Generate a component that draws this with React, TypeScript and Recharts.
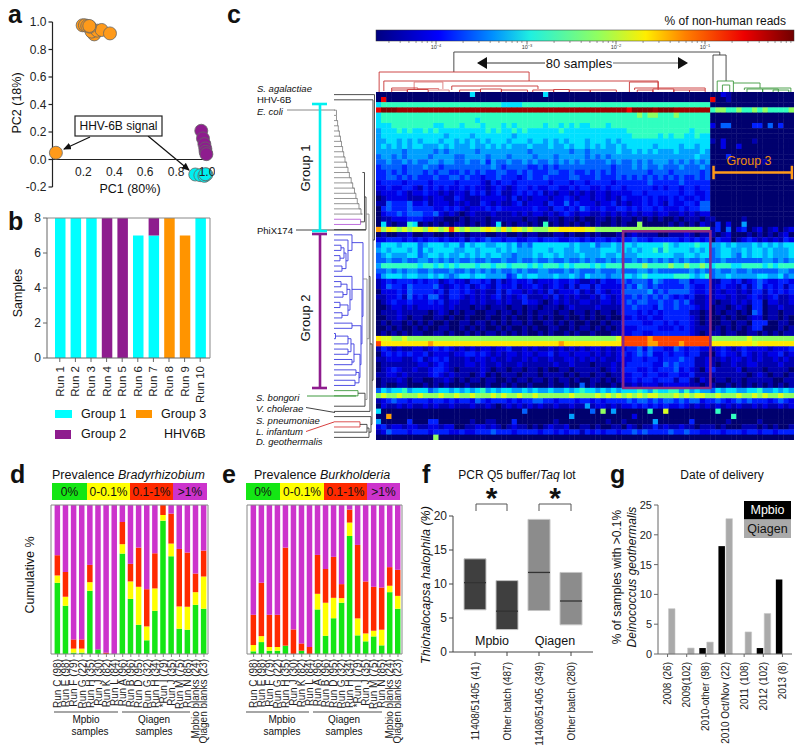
import React from "react";
import {
  BarChart, Bar, ComposedChart, Line, Cell, ScatterChart, Scatter, XAxis, YAxis, ReferenceLine, ReferenceArea,
} from "recharts";

const FONT = "'Liberation Sans', Arial, sans-serif";

/* ---- panel a ---- */
const pcaOrange = [[0.195,0.976],[0.21,0.976],[0.225,0.971],[0.27,0.91],[0.253,0.93],[0.29,0.937],[0.318,0.942],[0.372,0.917],[0.242,0.966],[0.238,0.971],[0.022,0.049]];
const pcaPurple = [[0.963,0.209],[0.974,0.153],[0.983,0.112],[0.989,0.08],[0.991,0.056],[0.996,0.039]];
const pcaCyan = [[0.924,-0.109],[0.957,-0.114],[0.983,-0.119],[0.996,-0.109],[0.989,-0.107]];
const pcaXTicks = [0.2,0.4,0.6,0.8,1.0];
const pcaYTicks = [-0.2,0,0.2,0.4,0.6,0.8,1.0];

/* ---- panel b ---- */
const runNames = ["Run 1","Run 2","Run 3","Run 4","Run 5","Run 6","Run 7","Run 8","Run 9","Run 10"];
const group1Counts = [8,8,8,0,0,7,7,0,0,8];
const group2Counts = [0,0,0,8,8,0,1,0,0,0];
const group3Counts = [0,0,0,0,0,0,0,8,7,0];

/* ---- panels d, e ---- */
const prevLabels = ["Run C (98)","Run E (98)","Run F (79)","Run G (22)","Run H (35)","Run J (30)","Run K (82)","Run L (84)","Run A (96)","Run B (96)","Run D (95)","Run G (32)","Run H (34)","*Run I (79)","Run J (35)","Run M (75)","Run N (85)","Mpbio blanks (24)","Qiagen blanks (23)"];
const bradyGreen = [47.8,32.4,0.9,0.9,42.4,3.1,0,0,67.4,37,19.6,9.2,29,89.5,65.6,17,16.3,33,30.4];
const bradyYellow = [52.7,38.4,3.6,3.6,48.2,3.1,0,0,73.7,48.7,45.1,18.5,44,93.3,74.1,31.9,31.7,41.5,52];
const bradyRed = [66.3,55.1,9.8,9.8,59.8,3.1,0.9,0,88.6,60.5,71.4,43.5,67.6,100,94.2,70.5,68.1,54,69.4];
const burkGreen = [1.8,8,2.2,2.2,5.6,0,2.2,0,29.9,12.3,24,34.4,79.2,12.5,8.5,11.8,5.8,41.5,30.4];
const burkYellow = [6,12,4.7,4.7,5.6,0,2.2,0,40.4,34.4,37.7,37.5,88.2,23.9,13.8,15.6,16.3,45.8,39];
const burkRed = [26.3,47.8,26.3,26.3,71.4,16.5,7.1,4.7,66.5,57.1,65.2,46.9,96.9,73.2,48.7,45.1,44.6,58.3,56.5];

/* ---- panel f ---- */
const lotLabels = ["11408/51405 (41)","Other batch (487)","11408/51405 (349)","Other batch (280)"];
const lotLow = [6.2,3.3,6.1,4];
const lotMedian = [10.2,6,11.7,7.5];
const lotHigh = [13.7,10.5,19.5,11.7];
const lotFill = ["#3f3f3f","#3f3f3f","#8c8c8c","#8c8c8c"];

/* ---- panel g ---- */
const dateLabels = ["2008 (26)","2009(102)","2010-other (98)","2010 Oct/Nov (22)","2011 (108)","2012 (102)","2013 (8)"];
const dateMpbio = [0,0,1,18.1,0,1,12.5];
const dateQiagen = [7.6,1,2,22.7,3.7,6.8,0];

/* ---- panel c heat map: one hex colour level per cell, read row by row ---- */
const heatLevels = ["#00006e","#0000b0","#0000e6","#0020ff","#0060ff","#00a0ff","#00e0ff","#30ffc0","#90ff60","#d8ff20","#ffe800","#ffa000","#ff4400","#f00000","#a00000","#800000"];
const heatRows = [
"00000000 00000000 00600000 00000000 60000000 00000000 00000000 00000000 00210000 00000000",
"0d000000 00000000 00000000 00000000 00000000 00000000 00000000 00000000 d0010000 00000000",
"67777777 77777777 77777777 66667777 77777777 77777777 77777777 77777777 00000000 00000000",
"dfffeeee eeeeeeee eeeeeeee eeeeeeee eeeeeeee eeeeeeee dffffeff feeeeeee 78877877 87877778",
"67777777 77777777 77777777 77777777 77777777 77777777 77878877 78777777 00000000 00000000",
"67777777 77777777 77767777 77777777 77777777 77777777 77777777 77777777 00000000 00000000",
"66677777 77766777 67776777 67677777 67767676 67776777 77777777 77777777 20440000 33040300",
"56667676 67676666 66666767 66767666 66676666 66666666 77777777 77776777 00000000 00000000",
"56666666 66666566 66566666 66566666 66666666 66666666 67777767 67766766 00000000 00000000",
"55665656 56665665 65656566 65666566 56565666 56665656 66666666 66666666 10200000 10000000",
"56565656 65556565 55655656 56555655 56556566 56565565 66666566 66566566 00200200 00000000",
"55555455 55545455 55545555 55555455 55555455 45555565 56565655 56555565 00000000 00000000",
"45545455 55455554 45555455 54555545 55455555 45454555 55555555 55555655 00030000 00000000",
"44544545 44554554 45445354 45445454 45454545 44445454 45454555 45454545 00000000 00100000",
"34444344 45443444 44444454 34444334 34344444 44444344 45454454 44544454 00000000 00000000",
"33434344 43434433 43434334 43343433 34433433 43434344 44443444 34444434 00000000 00000000",
"33443434 33343344 34332334 33323433 43333443 33433343 43434343 43433434 00000000 00000000",
"23333233 33233332 33332132 33233333 32333233 23333233 33334333 33433333 00000000 00000000",
"22322332 13232322 32322123 21233232 23322323 32232332 33333232 33233233 00000000 00000000",
"12223212 23221212 21323123 11232323 12122121 21221222 23323333 33233223 00000000 00000000",
"01222211 12122113 21112222 21312122 21223212 21221213 22232322 32322323 00000000 00000000",
"11433342 23122212 12113212 11231222 13224232 22122312 12232321 32233244 00000000 00000000",
"03433343 33322323 21222323 22222232 21332324 32232233 23233232 22323344 00000000 00000000",
"02334344 43342121 01211121 11212122 12123212 21121212 12122122 11212122 00000000 00000000",
"01122233 32211000 10111011 11110110 01101101 00110101 10101010 01011101 10000010 00000000",
"06101176 01010101 10101016 01011010 70101010 10100101 00800000 10101021 03020050 00000000",
"b8a98989 98a989c9 89889a98 a8a98988 899aaaaa 99888888 88888888 88888888 13040230 12012012",
"01001120 01100101 10111001 10010110 00110100 10100010 12111100 11121011 10120001 01010120",
"22333232 32332322 31323433 23322332 33322332 32332323 34332333 33232323 03220123 21212132",
"46665666 45666566 46566556 65645466 66666565 56455656 65666667 65666766 55656555 65656566",
"56566656 46566665 56656665 65655566 65665565 55566656 56566757 66665656 45665565 66565556",
"45655566 45665655 65656566 55455565 66565556 55565565 55666666 65566566 45665465 66565556",
"44544544 55454545 44544544 54454454 45445445 45445454 45454545 45454454 44544444 44554545",
"57777777 67767676 77767767 76777676 77767677 76767777 77787777 87787787 67776677 77676777",
"44545455 44544454 45454545 44545445 54445454 44544454 44554544 44445454 45445445 44444554",
"35666566 55656545 66566555 53465665 55655654 65554556 65676666 67776567 45565555 56655645",
"12323332 32331232 21332313 12322312 22322321 12132234 34443543 33442333 11332312 34322332",
"12433243 33342123 23123213 22312232 12321313 31322223 43543433 33343223 12322131 34232313",
"02223243 33323133 23212113 13221212 13122231 21321224 44445343 44443223 12122121 33132323",
"11223142 32442133 21212123 12123111 21312121 12132123 34343434 32323112 12212112 32123112",
"01232232 22323122 11212112 12113221 01212112 21122123 43443343 34342112 10112121 33022112",
"00122121 22222121 11011011 10110110 11101211 11211113 34333243 34333212 01101210 33011211",
"01112111 11012101 01100110 11010101 11011011 01011013 33232323 33331101 01011010 43011011",
"00112101 10011010 01000100 10100101 01001001 01001002 23223223 33332101 00101001 22011010",
"01011010 10100100 11011010 10110100 11010100 10010113 33322332 32332101 00110110 33300110",
"00101001 01001100 10101001 01001010 01100101 10101012 22333322 23232111 01010101 33000101",
"01010101 10011010 01010110 10101001 01001010 01000112 23322333 33332101 11011001 10101011",
"a9988988 88888888 88888888 88888888 88888888 8888889c ccccbccc cccccccc 88888889 88888888",
"caaaaaaa aabaaaaa aaaaaaaa aaaaaaaa aaabaaaa aaaaaaac ccccbbcc ccbccccc aaaaaaaa 9aaaaaaa",
"13212112 21232321 21212212 23112121 12121212 12212122 33424332 24323322 12321232 22212223",
"02323232 23122212 23323212 12212212 23122122 21212123 23434223 23323311 02322132 12122312",
"11222112 31232311 12122121 12112121 12112212 12121122 23323323 33433112 11212212 12112121",
"01111111 22123211 12212112 11121111 11211211 10111212 33333224 34333112 10112112 21111211",
"01232112 11233210 11112101 10110110 10011011 11101213 33223233 34232102 31111201 11011110",
"11221211 11232121 11012010 11101110 11110101 10110112 23323322 33223111 11111110 12101101",
"01112101 10011210 10110110 01011011 01011010 01101012 23233233 31331021 01101101 11110011",
"01001100 01010100 01000100 10100100 01001004 01000101 12122212 22221101 10010101 01010101",
"46566756 66456656 56567565 66556565 56556567 66565656 66765766 77575655 46566556 67556565",
"89889888 98889889 88988898 98898898 88888988 88989898 98989988 89898998 89888988 98988988",
"12343323 33233232 33243233 32323344 33233323 32323333 43443434 43434423 34323434 33323432",
"02112121 12121121 11211210 12121212 11211211 51221212 23232323 22321212 12121211 21211212",
"60000000 00000000 00000000 00004000 00000000 04080500 00007009 00000000 07000000 00000000",
"00b00000 00000000 00000000 00000000 00000500 00000000 02000000 00000000 00007000 00000000",
"50000030 00330000 00100110 00300000 00100000 00001001 00000500 00003000 00010000 01000000",
"23122122 11221220 01122121 01211010 12112001 10100110 21011312 11211011 10100011 10101001",
"12433323 33233322 32233343 33233332 33232331 32323323 34343333 43343322 33233323 32332333",
"00000000 00080000 00000000 00000000 00000000 00000000 00000000 00000000 00000000 00000000",
];
const HEAT_COLS = 80;
const HEAT_W = 418;
const HEAT_H = 348;
const heatCells = heatRows.flatMap((row, r) =>
  row.replace(/ /g, "").split("").map((ch, c) => ({ x: c + 0.5, y: r + 0.5, v: parseInt(ch, 16) }))
);

/* ---- dendrograms: [a, b, height at a, height at b, join height, colour] ---- */
const RED = "#c83434", PINK = "#dc7a7a", GREEN = "#3f9a3f", DARK = "#3a3a3a", GREY = "#8a8a8a", BLUE = "#3c3ce0", PURPLE = "#b85fd8", SRED = "#d84040";
type Link = [number, number, number, number, number, string];
const topLinks: Link[] = [
  [14.9,65.8,20,37,40,DARK],[64.5,67,0,11,37,DARK],
  [0.6,29.3,0,11,20,RED],[1.5,54,1,2,11,RED],
  [7.3,12.8,2,3,10,PINK],[14.5,31,2,3,6,RED],[3,8,2,2,4,RED],[8,12,2,2,3.5,PINK],
  [48.5,54,0,4,10,RED],[49.5,63,2,2,4,RED],
  [3,6,0,0,2,RED],[6,10,0,0,2.5,RED],[10,14,0,0,2,PINK],[16,20,0,0,2,RED],[20,24,0,0,3,RED],
  [24,29,0,0,2,RED],[30,34,0,0,2,RED],[34,37,0,0,2.5,RED],[37,41,0,0,2,RED],[41,46,0,0,2,RED],
  [50,53,0,0,2,RED],[53,57,0,0,3,RED],[57,60,0,0,2,RED],[60,63,0,0,2,RED],
  [65.3,68.4,0,9,11,GREEN],[66.3,67.7,0,0,7,GREEN],[68.4,73.5,0,4,9,GREEN],[70.5,79.4,2,0,4,GREEN],
  [71,74,0,0,3,GREEN],[74,77,0,0,3,GREEN],[76,79,0,0,2,GREEN],
];
const ladderRows = [4,5,6,7,8,9,10,11,12,13,14,15,16,17,18,19,20,21,22,23];
const ladderDist = [2.5,3.6,4.3,5.4,6.5,7.5,8.6,9.7,11,12.6,14,15.4,17.2,18.7,20.5,21.9,23.3,25,27,28.4];
const leftLinks: Link[] = [
  [3,4,0,2.5,2.5,GREY],[24,25,0,0,26.6,PURPLE],[15,24.5,28.4,26.6,30.5,DARK],[19.7,26,30.5,0,32,DARK],
  [29,30,0,0,7,BLUE],[31,32,0,0,6,BLUE],[29.5,31.5,7,6,10,BLUE],[33,34,0,0,8,BLUE],[30.5,33.5,10,8,12,BLUE],
  [28,32,0,12,14,BLUE],[27,30,0,14,18,BLUE],[36,37,0,0,7,BLUE],[38,39,0,0,9,BLUE],[36.5,38.5,7,9,13,BLUE],
  [40,41,0,0,6,BLUE],[42,43,0,0,8,BLUE],[40.5,42.5,6,8,14,BLUE],[37.5,41.5,13,14,16,BLUE],[35,39.5,0,16,18,BLUE],
  [44,45,0,0,18,BLUE],[46,47,0,0,1.5,BLUE],[46.5,48,1.5,0,14,BLUE],[49,50,0,0,14,BLUE],[47,49.5,14,14,17,BLUE],
  [51,52,0,0,18,BLUE],[48,51.5,17,18,20,BLUE],[53,54,0,0,22,BLUE],[55,56,0,0,21,BLUE],[53.5,55.5,22,21,25,BLUE],
  [50,54.5,20,25,26,BLUE],[44.5,52,18,26,27,BLUE],[37.5,48,18,27,28,BLUE],[28.5,42.7,18,28,29,BLUE],
  [57,58,0,0,24,GREEN],[57.5,60,24,0,31,DARK],[35.5,58.7,29,31,33,GREY],[23,47,32,33,35,GREY],[35,61,35,0,36,DARK],
  [63,64,0,0,26,SRED],[63.5,65,26,0,33,DARK],[64.2,66,33,0,35,DARK],[62,65,0,35,37,DARK],[48,63.5,36,37,38,DARK],
  [1,55,0,38,39,DARK],[0,28,0,39,40.5,DARK],
];

/* helpers */
const tickStyle = { fontSize: 12, fill: "#222", fontFamily: FONT };

function RotTick({ x, y, payload, gap, size }: any) {
  const ty = y + gap;
  return (
    <text x={x} y={ty} transform={`rotate(-90 ${x} ${ty})`} textAnchor="end" dominantBaseline="central" fontSize={size} fill="#222" fontFamily={FONT}>
      {payload.value}
    </text>
  );
}

const place = (left: number, top: number, width: number, height: number): React.CSSProperties => ({ position: "absolute", left, top, width, height });

const Dot = (fill: string) => (p: any) => (
  <circle cx={p.cx} cy={p.cy} r={6.5} fill={fill} stroke="#666" strokeWidth={0.8} />
);

function PanelA() {
  const toPts = (a: number[][]) => a.map(([x, y]) => ({ x, y }));
  return (
    <div style={place(0, 10, 215, 200)}>
      <ScatterChart width={215} height={200} margin={{ top: 12, right: 8, bottom: 0, left: 0 }}>
        <XAxis type="number" dataKey="x" domain={[0, 1]} ticks={pcaXTicks} height={23} axisLine={false} tickLine={false}
          tick={(p: any) => (
            <text x={p.x} y={p.y - 23} textAnchor="middle" dominantBaseline="central" {...tickStyle}>{p.payload.value.toFixed(1)}</text>
          )} />
        <YAxis type="number" dataKey="y" domain={[-0.2, 1]} ticks={pcaYTicks} width={52.5} stroke="#222" strokeWidth={1.2} tickSize={4}
          tick={tickStyle} tickFormatter={(v: number) => v.toFixed(1)} interval={0} />
        <ReferenceLine y={0} stroke="#222" strokeWidth={1.2} />
        <Scatter data={toPts(pcaOrange)} shape={Dot("#ff9a1a")} isAnimationActive={false} />
        <Scatter data={toPts(pcaPurple)} shape={Dot("#8e1c8e")} isAnimationActive={false} />
        <Scatter data={toPts(pcaCyan)} shape={Dot("#00f0f0")} isAnimationActive={false} />
      </ScatterChart>
    </div>
  );
}

function PanelB() {
  const data = runNames.map((name, i) => ({ name, g1: group1Counts[i], g2: group2Counts[i], g3: group3Counts[i] }));
  return (
    <div style={place(0, 208, 215, 198)}>
      <BarChart width={215} height={198} data={data} margin={{ top: 10, right: 5, bottom: 0, left: 0 }} barSize={10.5}>
        <XAxis dataKey="name" interval={0} height={48} stroke="#666" tickSize={4} padding={{ left: 5, right: 2 }}
          tick={(p: any) => <RotTick {...p} gap={2} size={11.5} />} />
        <YAxis domain={[0, 8]} ticks={[0, 2, 4, 6, 8]} width={47} stroke="#666" tickSize={4} tick={tickStyle} />
        <ReferenceLine y={8} stroke="#888" strokeWidth={1} />
        <Bar dataKey="g1" stackId="s" fill="#00ffff" isAnimationActive={false} />
        <Bar dataKey="g2" stackId="s" fill="#8e1c8e" isAnimationActive={false} />
        <Bar dataKey="g3" stackId="s" fill="#ff9400" isAnimationActive={false} />
      </BarChart>
    </div>
  );
}

function Prevalence({ left, green, yellow, red, plotWidth, yw }: any) {
  const data = prevLabels.map((label, i) => ({
    label,
    a: green[i],
    b: yellow[i] - green[i],
    c: red[i] - yellow[i],
    d: 100 - red[i],
  }));
  return (
    <div style={place(left, 495, plotWidth + yw + 4, 253)}>
      <BarChart width={plotWidth + yw + 4} height={253} data={data} margin={{ top: 10, right: 4, bottom: 0, left: 0 }} barSize={5.5}>
        <XAxis dataKey="label" interval={0} height={94} stroke="#888" tickSize={3} padding={{ left: 2.6, right: 0 }}
          tick={(p: any) => <RotTick {...p} gap={0} size={10} />} />
        <YAxis domain={[0, 100]} ticks={[0, 25, 50, 75, 100]} width={yw} stroke="#888" tickSize={4} tick={false} />
        <ReferenceLine y={100} stroke="#888" />
        <Bar dataKey="a" stackId="s" fill="#14e614" isAnimationActive={false} />
        <Bar dataKey="b" stackId="s" fill="#ffff00" isAnimationActive={false} />
        <Bar dataKey="c" stackId="s" fill="#ff2a00" isAnimationActive={false} />
        <Bar dataKey="d" stackId="s" fill="#cc33cc" isAnimationActive={false} />
      </BarChart>
    </div>
  );
}

function PanelF() {
  const data = lotLabels.map((label, i) => ({ label, range: [lotLow[i], lotHigh[i]], med: lotMedian[i] }));
  return (
    <div style={place(410, 506, 190, 242)}>
      <ComposedChart width={190} height={242} data={data} margin={{ top: 10, right: 7, bottom: 0, left: 0 }} barSize={22}>
        <XAxis dataKey="label" interval={0} height={96} stroke="#444" tickSize={4} padding={{ left: 6, right: 6 }}
          tick={(p: any) => <RotTick {...p} gap={4} size={10} />} />
        <YAxis domain={[0, 20]} ticks={[0, 5, 10, 15, 20]} width={43} stroke="#444" tickSize={4} tick={tickStyle} />
        <Bar dataKey="range" stroke="#c4c4c4" strokeWidth={1} isAnimationActive={false}>
          {lotFill.map((f, i) => <Cell key={i} fill={f} />)}
        </Bar>
        <Line dataKey="med" stroke="none" isAnimationActive={false}
          dot={(p: any) => <line key={p.index} x1={p.cx - 11} x2={p.cx + 11} y1={p.cy} y2={p.cy} stroke="#333" strokeWidth={1.3} />} />
      </ComposedChart>
    </div>
  );
}

function PanelG() {
  const data = dateLabels.map((label, i) => ({ label, m: dateMpbio[i], q: dateQiagen[i] }));
  return (
    <div style={place(600, 495, 198, 253)}>
      <BarChart width={198} height={253} data={data} margin={{ top: 10, right: 6, bottom: 0, left: 0 }} barSize={6.5} barGap={1}>
        <XAxis dataKey="label" interval={0} height={94} stroke="#666" tickSize={3}
          tick={(p: any) => <RotTick {...p} gap={3} size={10} />} />
        <YAxis domain={[0, 25]} ticks={[0, 5, 10, 15, 20, 25]} width={58} stroke="#666" tickSize={4} tick={{ ...tickStyle, fontSize: 11 }} />
        <Bar dataKey="m" fill="#000" isAnimationActive={false} />
        <Bar dataKey="q" fill="#aaaaaa" stroke="#c8c8c8" strokeWidth={0.6} isAnimationActive={false} />
      </BarChart>
    </div>
  );
}

const noDot = (p: any) => <g key={p.index} />;

function linkSeries(links: Link[], vertical: boolean) {
  return links.map(([a, b, ha, hb, top, color], i) => {
    const pts = vertical
      ? [{ x: a, y: ha }, { x: a, y: top }, { x: b, y: top }, { x: b, y: hb }]
      : [{ x: ha, y: a + 0.5 }, { x: top, y: a + 0.5 }, { x: top, y: b + 0.5 }, { x: hb, y: b + 0.5 }];
    return <Scatter key={i} data={pts} line={{ stroke: color, strokeWidth: 0.9 }} shape={noDot} isAnimationActive={false} />;
  });
}

function TopDendrogram() {
  return (
    <div style={place(376, 50, HEAT_W, 42)}>
      <ScatterChart width={HEAT_W} height={42} margin={{ top: 0, right: 0, bottom: 0, left: 0 }}>
        <XAxis type="number" dataKey="x" domain={[0, HEAT_COLS]} hide />
        <YAxis type="number" dataKey="y" domain={[0, 42]} hide />
        {linkSeries(topLinks, true)}
      </ScatterChart>
    </div>
  );
}

function LeftDendrogram() {
  const ladderLinks: Link[] = ladderRows.map((r, i) => [r, i + 1 < ladderRows.length ? r + 1 : r, 0, ladderDist[Math.min(i + 1, ladderRows.length - 1)], ladderDist[i], GREY]);
  return (
    <div style={place(334.4, 92, 41.6, HEAT_H)}>
      <ScatterChart width={41.6} height={HEAT_H} margin={{ top: 0, right: 0, bottom: 0, left: 0 }}>
        <XAxis type="number" dataKey="x" domain={[0, 41.6]} hide />
        <YAxis type="number" dataKey="y" domain={[0, heatRows.length]} reversed hide />
        {linkSeries(ladderLinks, false)}
        {linkSeries(leftLinks, false)}
      </ScatterChart>
    </div>
  );
}

function HeatMap() {
  const w = HEAT_W / HEAT_COLS + 0.4;
  const h = HEAT_H / heatRows.length + 0.4;
  return (
    <div style={place(376, 92, HEAT_W, HEAT_H)}>
      <ScatterChart width={HEAT_W} height={HEAT_H} margin={{ top: 0, right: 0, bottom: 0, left: 0 }}>
        <XAxis type="number" dataKey="x" domain={[0, HEAT_COLS]} hide />
        <YAxis type="number" dataKey="y" domain={[0, heatRows.length]} reversed hide />
        <Scatter data={heatCells} isAnimationActive={false}
          shape={(p: any) => <rect x={p.cx - w / 2} y={p.cy - h / 2} width={w} height={h} fill={heatLevels[p.payload.v]} />} />
      </ScatterChart>
    </div>
  );
}

function HeatMarks() {
  return (
    <div style={place(376, 92, HEAT_W, HEAT_H)}>
      <ScatterChart width={HEAT_W} height={HEAT_H} margin={{ top: 0, right: 0, bottom: 0, left: 0 }}>
        <XAxis type="number" dataKey="x" domain={[0, HEAT_COLS]} hide />
        <YAxis type="number" dataKey="y" domain={[0, heatRows.length]} reversed hide />
        <Scatter data={[{ x: 0, y: 0 }]} shape={noDot} isAnimationActive={false} />
        <ReferenceArea x1={47.3} x2={64} y1={26.8} y2={57} fill="none" fillOpacity={0} stroke="#8b2a86" strokeWidth={2.6} ifOverflow="visible" />
        <ReferenceLine segment={[{ x: 64.6, y: 15.5 }, { x: 79.6, y: 15.5 }]} stroke="#ff9a1a" strokeWidth={2.5} />
        <ReferenceLine segment={[{ x: 64.6, y: 14.2 }, { x: 64.6, y: 16.8 }]} stroke="#ff9a1a" strokeWidth={2.5} />
        <ReferenceLine segment={[{ x: 79.6, y: 14.2 }, { x: 79.6, y: 16.8 }]} stroke="#ff9a1a" strokeWidth={2.5} />
      </ScatterChart>
    </div>
  );
}

const T = ({ x, y, s = 12, a = "start", w, i, c = "#111", r, children }: any) => (
  <text x={x} y={y} fontSize={s} textAnchor={a} fontWeight={w} fontStyle={i ? "italic" : undefined} fill={c}
    dominantBaseline="central" transform={r ? `rotate(-90 ${x} ${y})` : undefined}>{children}</text>
);

const Letter = ({ x, y, children }: any) => (
  <text x={x} y={y} fontSize={25} fontWeight="bold" fill="#111">{children}</text>
);

const legendSegs = (xs: number[]) => {
  const fills = ["#14e614", "#ffff00", "#ff2a00", "#cc33cc"];
  const labels = ["0%", "0-0.1%", "0.1-1%", ">1%"];
  return fills.map((f, i) => (
    <g key={i}>
      <rect x={xs[i]} y={483} width={xs[i + 1] - xs[i]} height={17} fill={f} />
      <T x={(xs[i] + xs[i + 1]) / 2} y={491.5} a="middle" s={12}>{labels[i]}</T>
    </g>
  ));
};

const decades = [346, 436, 527, 616, 705];
const minors = [2, 3, 4, 5, 6, 7, 8, 9].map((m) => Math.log10(m));

function Overlay() {
  return (
    <svg width={800} height={748} style={{ position: "absolute", left: 0, top: 0, pointerEvents: "none", fontFamily: FONT }}>
      <defs>
        <marker id="ah" markerWidth="8" markerHeight="8" refX="7" refY="3.5" orient="auto" markerUnits="userSpaceOnUse">
          <path d="M0,0 L8,3.5 L0,7 Z" fill="#111" />
        </marker>
        <marker id="ah2" markerWidth="10" markerHeight="12" refX="9" refY="6" orient="auto" markerUnits="userSpaceOnUse">
          <path d="M0,0 L10,6 L0,12 Z" fill="#111" />
        </marker>
        <linearGradient id="jet">
          <stop offset="0" stopColor="#000080" />
          <stop offset="0.15" stopColor="#0000ff" />
          <stop offset="0.28" stopColor="#0090ff" />
          <stop offset="0.37" stopColor="#20f0e0" />
          <stop offset="0.53" stopColor="#90ff60" />
          <stop offset="0.645" stopColor="#ffee00" />
          <stop offset="0.74" stopColor="#ff8000" />
          <stop offset="0.88" stopColor="#ee0000" />
          <stop offset="1" stopColor="#700000" />
        </linearGradient>
      </defs>

      <Letter x={8} y={23}>a</Letter>
      <Letter x={227} y={23}>c</Letter>
      <Letter x={8} y={230}>b</Letter>
      <Letter x={10} y={483}>d</Letter>
      <Letter x={222} y={483}>e</Letter>
      <Letter x={422} y={483}>f</Letter>
      <Letter x={610} y={483}>g</Letter>

      {/* a */}
      <T x={130} y={189} a="middle" s={12.5}>PC1 (80%)</T>
      <T x={17} y={103} a="middle" r s={12.5}>PC2 (18%)</T>
      <line x1={90} y1={137} x2={64} y2={149} stroke="#111" strokeWidth={1.2} markerEnd="url(#ah)" />
      <line x1={148} y1={136} x2={189} y2={170} stroke="#111" strokeWidth={1.2} markerEnd="url(#ah)" />
      <rect x={75} y={116} width={87} height={20} fill="#fff" stroke="#222" strokeWidth={1.2} />
      <T x={118.5} y={126} a="middle" s={12}>HHV-6B signal</T>

      {/* b */}
      <line x1={210} y1={218} x2={210} y2={358} stroke="#888" />
      <T x={18} y={293} a="middle" r s={12.5}>Samples</T>
      <rect x={55} y={410} width={17} height={8} fill="#00ffff" />
      <T x={81} y={414} s={12.5}>Group 1</T>
      <rect x={136} y={410} width={16} height={8} fill="#ff9400" />
      <T x={161} y={414} s={12.5}>Group 3</T>
      <rect x={55} y={430} width={16} height={9} fill="#8e1c8e" />
      <T x={81} y={434} s={12.5}>Group 2</T>
      <T x={164} y={434} s={12.5}>HHV6B</T>

      {/* c colour bar */}
      <T x={786} y={21} a="end" s={12}>% of non-human reads</T>
      <rect x={376} y={30} width={418} height={11} fill="url(#jet)" stroke="#333" strokeWidth={0.5} />
      {decades.map((d, i) => (
        <g key={i}>
          {i > 0 ? <line x1={d} x2={d} y1={41} y2={44.5} stroke="#333" strokeWidth={0.7} /> : null}
          {i > 0 ? (
            <text x={d} y={48.5} fontSize={5.5} textAnchor="middle" fill="#333">10<tspan dy={-1.5} fontSize={4}>{`\u2212${5 - i}`}</tspan></text>
          ) : null}
          {minors.map((m, j) => {
            const mx = d + m * 90;
            return mx > 376 && mx < 794 ? <line key={j} x1={mx} x2={mx} y1={41} y2={43} stroke="#333" strokeWidth={0.5} /> : null;
          })}
        </g>
      ))}

      {/* c annotations */}
      <line x1={545} y1={63} x2={478} y2={63} stroke="#333" strokeWidth={1} markerEnd="url(#ah2)" />
      <line x1={613} y1={63} x2={687} y2={63} stroke="#666" strokeWidth={1} markerEnd="url(#ah2)" />
      <T x={579} y={63} a="middle" s={13}>80 samples</T>
      <T x={749} y={161} a="middle" s={12.5} c="#f08c10">Group 3</T>

      <g fontStyle="italic">
        <T x={257} y={88} s={9.5} i>S. agalactiae</T>
        <T x={257} y={111.5} s={9.5} i>E. coli</T>
        <T x={256} y={397} s={9.5} i>S. bongori</T>
        <T x={256} y={408.5} s={9.5} i>V. cholerae</T>
        <T x={256} y={420} s={9.5} i>S. pneumoniae</T>
        <T x={256} y={431} s={9.5} i>L. infantum</T>
        <T x={256} y={441.5} s={9.5} i>D. geothermalis</T>
      </g>
      <T x={257} y={99.5} s={9.5}>HHV-6B</T>
      <T x={257} y={230} s={9.5}>PhiX174</T>
      <line x1={287} y1={110} x2={335} y2={110} stroke="#888" />
      <line x1={296} y1={230} x2={366} y2={230} stroke="#444" />
      <line x1={307} y1={396} x2={356} y2={396} stroke="#3f9a3f" />
      <line x1={306} y1={407.5} x2={335} y2={412.5} stroke="#444" />
      <line x1={306} y1={431.5} x2={334} y2={422} stroke="#d84040" />

      {/* group brackets */}
      <g stroke="#00f0f0" strokeWidth={2.6}>
        <line x1={320} x2={320} y1={104} y2={231} />
        <line x1={312} x2={327} y1={104} y2={104} />
        <line x1={312} x2={327} y1={231} y2={231} />
      </g>
      <g stroke="#8e1c8e" strokeWidth={2.6}>
        <line x1={320} x2={320} y1={234} y2={388} />
        <line x1={312} x2={327} y1={234} y2={234} />
        <line x1={312} x2={327} y1={388} y2={388} />
      </g>
      <T x={305} y={168} a="middle" r s={13}>Group 1</T>
      <T x={305} y={318} a="middle" r s={13}>Group 2</T>

      {/* d */}
      <text x={52} y={475} fontSize={12.5} dominantBaseline="central" fill="#111">Prevalence <tspan fontStyle="italic">Bradyrhizobium</tspan></text>
      {legendSegs([52, 87, 130, 173, 207])}
      <T x={30} y={575} a="middle" r s={12.5}>Cumulative %</T>
      <line x1={208} y1={505} x2={208} y2={654} stroke="#888" />
      <line x1={54} y1={712} x2={118} y2={712} stroke="#888" strokeWidth={1.5} />
      <line x1={122} y1={712} x2={190} y2={712} stroke="#888" strokeWidth={1.5} />
      <T x={86} y={719.5} a="middle" s={10}>Mpbio</T>
      <T x={90} y={731.5} a="middle" s={10}>samples</T>
      <T x={154} y={719.5} a="middle" s={10}>Qiagen</T>
      <T x={154} y={731.5} a="middle" s={10}>samples</T>

      {/* e */}
      <text x={254} y={475} fontSize={12.5} dominantBaseline="central" fill="#111">Prevalence <tspan fontStyle="italic">Burkholderia</tspan></text>
      {legendSegs([246, 280, 324, 367, 400])}
      <line x1={402} y1={505} x2={402} y2={654} stroke="#888" />
      <line x1={246} y1={712} x2={309} y2={712} stroke="#888" strokeWidth={1.5} />
      <line x1={313} y1={712} x2={382} y2={712} stroke="#888" strokeWidth={1.5} />
      <T x={282} y={719.5} a="middle" s={10}>Mpbio</T>
      <T x={282} y={731.5} a="middle" s={10}>samples</T>
      <T x={344} y={719.5} a="middle" s={10}>Qiagen</T>
      <T x={344} y={731.5} a="middle" s={10}>samples</T>

      {/* f */}
      <text x={517} y={475} fontSize={12} textAnchor="middle" dominantBaseline="central" fill="#111">PCR Q5 buffer/<tspan fontStyle="italic">Taq</tspan> lot</text>
      <T x={426} y={585} a="middle" r s={12.5} i>Thiohalocapsa halophila (%)</T>
      <path d="M476,511 V504 H507 V511" fill="none" stroke="#555" />
      <path d="M539,511 V504 H571 V511" fill="none" stroke="#555" />
      <text x={491.5} y={508} fontSize={30} fontWeight="bold" textAnchor="middle" fill="#111">*</text>
      <text x={555} y={508} fontSize={30} fontWeight="bold" textAnchor="middle" fill="#111">*</text>
      <T x={492} y={641} a="middle" s={12.5}>Mpbio</T>
      <T x={555} y={641} a="middle" s={12.5}>Qiagen</T>

      {/* g */}
      <T x={722} y={475} a="middle" s={12}>Date of delivery</T>
      <T x={617} y={577} a="middle" r s={12}>% of samples with &gt;0.1%</T>
      <T x={632} y={577} a="middle" r s={12} i>Deinococcus geothermalis</T>
      <rect x={744} y={501} width={47} height={18.5} fill="#000" />
      <T x={767.5} y={510} a="middle" s={12.5} c="#fff">Mpbio</T>
      <rect x={744} y={519.5} width={47} height={18.5} fill="#aaaaaa" />
      <T x={767.5} y={529} a="middle" s={12.5}>Qiagen</T>
    </svg>
  );
}

export default function App() {
  return (
    <div style={{ position: "absolute", left: 0, top: 0, width: 800, height: 748, background: "#fff", fontFamily: FONT, overflow: "hidden" }}>
      <PanelA />
      <PanelB />
      <TopDendrogram />
      <LeftDendrogram />
      <HeatMap />
      <HeatMarks />
      <Prevalence left={0} green={bradyGreen} yellow={bradyYellow} red={bradyRed} plotWidth={157} yw={51} />
      <Prevalence left={196} green={burkGreen} yellow={burkYellow} red={burkRed} plotWidth={155} yw={51} />
      <PanelF />
      <PanelG />
      <Overlay />
    </div>
  );
}
